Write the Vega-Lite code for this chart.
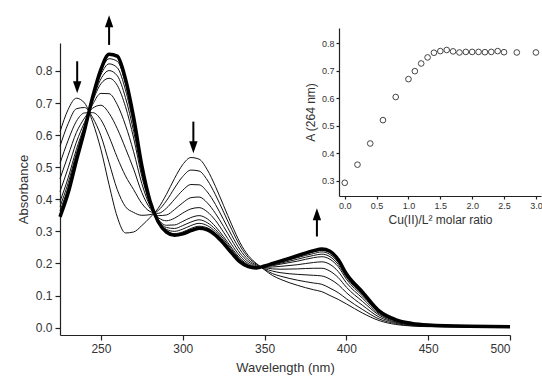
{
"$schema": "https://vega.github.io/schema/vega-lite/v6.json",
"autosize": {"type": "none"},
"width": 481, "height": 307,
"padding": {"left": 60, "top": 28, "right": 1, "bottom": 46},
"background": "white",
"config": {"view": {"stroke": null}, "font": "Liberation Sans",
 "axis": {"grid": false, "labelOverlap": false, "domainColor": "#222", "tickColor": "#222", "labelColor": "#333", "titleColor": "#333", "labelFont": "Liberation Sans", "titleFont": "Liberation Sans", "titleFontWeight": "normal", "domainWidth": 1.2, "tickWidth": 1.2}},
"datasets": {
"spectra": [
{"c":0,"w":225,"a":0.610},{"c":0,"w":230,"a":0.680},{"c":0,"w":235,"a":0.715},{"c":0,"w":240,"a":0.700},{"c":0,"w":245,"a":0.640},{"c":0,"w":250,"a":0.555},{"c":0,"w":255,"a":0.445},{"c":0,"w":260,"a":0.345},{"c":0,"w":265,"a":0.295},{"c":0,"w":270,"a":0.298},{"c":0,"w":275,"a":0.318},{"c":0,"w":280,"a":0.343},{"c":0,"w":285,"a":0.372},{"c":0,"w":290,"a":0.415},{"c":0,"w":295,"a":0.465},{"c":0,"w":300,"a":0.508},{"c":0,"w":305,"a":0.530},{"c":0,"w":310,"a":0.525},{"c":0,"w":315,"a":0.492},{"c":0,"w":320,"a":0.440},{"c":0,"w":325,"a":0.380},{"c":0,"w":330,"a":0.320},{"c":0,"w":335,"a":0.265},{"c":0,"w":340,"a":0.225},{"c":0,"w":345,"a":0.200},{"c":0,"w":350,"a":0.180},{"c":0,"w":355,"a":0.162},{"c":0,"w":360,"a":0.150},{"c":0,"w":370,"a":0.132},{"c":0,"w":380,"a":0.118},{"c":0,"w":385,"a":0.112},{"c":0,"w":390,"a":0.100},{"c":0,"w":395,"a":0.088},{"c":0,"w":400,"a":0.074},{"c":0,"w":410,"a":0.045},{"c":0,"w":420,"a":0.022},{"c":0,"w":430,"a":0.010},{"c":0,"w":440,"a":0.005},{"c":0,"w":450,"a":0.003},{"c":0,"w":475,"a":0.002},{"c":0,"w":500,"a":0.002},
{"c":1,"w":225,"a":0.565},{"c":1,"w":230,"a":0.636},{"c":1,"w":235,"a":0.682},{"c":1,"w":240,"a":0.686},{"c":1,"w":245,"a":0.654},{"c":1,"w":250,"a":0.598},{"c":1,"w":255,"a":0.514},{"c":1,"w":260,"a":0.430},{"c":1,"w":265,"a":0.377},{"c":1,"w":270,"a":0.359},{"c":1,"w":275,"a":0.350},{"c":1,"w":280,"a":0.352},{"c":1,"w":285,"a":0.365},{"c":1,"w":290,"a":0.395},{"c":1,"w":295,"a":0.435},{"c":1,"w":300,"a":0.471},{"c":1,"w":305,"a":0.491},{"c":1,"w":310,"a":0.488},{"c":1,"w":315,"a":0.460},{"c":1,"w":320,"a":0.414},{"c":1,"w":325,"a":0.360},{"c":1,"w":330,"a":0.305},{"c":1,"w":335,"a":0.255},{"c":1,"w":340,"a":0.219},{"c":1,"w":345,"a":0.198},{"c":1,"w":350,"a":0.182},{"c":1,"w":355,"a":0.168},{"c":1,"w":360,"a":0.160},{"c":1,"w":370,"a":0.148},{"c":1,"w":380,"a":0.139},{"c":1,"w":385,"a":0.135},{"c":1,"w":390,"a":0.123},{"c":1,"w":395,"a":0.109},{"c":1,"w":400,"a":0.090},{"c":1,"w":410,"a":0.056},{"c":1,"w":420,"a":0.027},{"c":1,"w":430,"a":0.013},{"c":1,"w":440,"a":0.006},{"c":1,"w":450,"a":0.004},{"c":1,"w":475,"a":0.002},{"c":1,"w":500,"a":0.002},
{"c":2,"w":225,"a":0.512},{"c":2,"w":230,"a":0.584},{"c":2,"w":235,"a":0.643},{"c":2,"w":240,"a":0.669},{"c":2,"w":245,"a":0.670},{"c":2,"w":250,"a":0.648},{"c":2,"w":255,"a":0.595},{"c":2,"w":260,"a":0.530},{"c":2,"w":265,"a":0.473},{"c":2,"w":270,"a":0.430},{"c":2,"w":275,"a":0.387},{"c":2,"w":280,"a":0.362},{"c":2,"w":285,"a":0.356},{"c":2,"w":290,"a":0.372},{"c":2,"w":295,"a":0.400},{"c":2,"w":300,"a":0.428},{"c":2,"w":305,"a":0.446},{"c":2,"w":310,"a":0.445},{"c":2,"w":315,"a":0.423},{"c":2,"w":320,"a":0.384},{"c":2,"w":325,"a":0.336},{"c":2,"w":330,"a":0.287},{"c":2,"w":335,"a":0.243},{"c":2,"w":340,"a":0.212},{"c":2,"w":345,"a":0.195},{"c":2,"w":350,"a":0.184},{"c":2,"w":355,"a":0.176},{"c":2,"w":360,"a":0.171},{"c":2,"w":370,"a":0.166},{"c":2,"w":380,"a":0.163},{"c":2,"w":385,"a":0.161},{"c":2,"w":390,"a":0.151},{"c":2,"w":395,"a":0.134},{"c":2,"w":400,"a":0.109},{"c":2,"w":410,"a":0.069},{"c":2,"w":420,"a":0.033},{"c":2,"w":430,"a":0.016},{"c":2,"w":440,"a":0.008},{"c":2,"w":450,"a":0.005},{"c":2,"w":475,"a":0.003},{"c":2,"w":500,"a":0.002},
{"c":3,"w":225,"a":0.464},{"c":3,"w":230,"a":0.537},{"c":3,"w":235,"a":0.608},{"c":3,"w":240,"a":0.653},{"c":3,"w":245,"a":0.684},{"c":3,"w":250,"a":0.693},{"c":3,"w":255,"a":0.668},{"c":3,"w":260,"a":0.620},{"c":3,"w":265,"a":0.559},{"c":3,"w":270,"a":0.494},{"c":3,"w":275,"a":0.421},{"c":3,"w":280,"a":0.372},{"c":3,"w":285,"a":0.349},{"c":3,"w":290,"a":0.351},{"c":3,"w":295,"a":0.368},{"c":3,"w":300,"a":0.389},{"c":3,"w":305,"a":0.405},{"c":3,"w":310,"a":0.407},{"c":3,"w":315,"a":0.389},{"c":3,"w":320,"a":0.356},{"c":3,"w":325,"a":0.315},{"c":3,"w":330,"a":0.272},{"c":3,"w":335,"a":0.232},{"c":3,"w":340,"a":0.206},{"c":3,"w":345,"a":0.192},{"c":3,"w":350,"a":0.187},{"c":3,"w":355,"a":0.183},{"c":3,"w":360,"a":0.182},{"c":3,"w":370,"a":0.183},{"c":3,"w":380,"a":0.185},{"c":3,"w":385,"a":0.185},{"c":3,"w":390,"a":0.176},{"c":3,"w":395,"a":0.156},{"c":3,"w":400,"a":0.126},{"c":3,"w":410,"a":0.081},{"c":3,"w":420,"a":0.039},{"c":3,"w":430,"a":0.018},{"c":3,"w":440,"a":0.009},{"c":3,"w":450,"a":0.006},{"c":3,"w":475,"a":0.003},{"c":3,"w":500,"a":0.003},
{"c":4,"w":225,"a":0.424},{"c":4,"w":230,"a":0.498},{"c":4,"w":235,"a":0.578},{"c":4,"w":240,"a":0.640},{"c":4,"w":245,"a":0.696},{"c":4,"w":250,"a":0.730},{"c":4,"w":255,"a":0.729},{"c":4,"w":260,"a":0.695},{"c":4,"w":265,"a":0.631},{"c":4,"w":270,"a":0.548},{"c":4,"w":275,"a":0.449},{"c":4,"w":280,"a":0.379},{"c":4,"w":285,"a":0.343},{"c":4,"w":290,"a":0.333},{"c":4,"w":295,"a":0.341},{"c":4,"w":300,"a":0.357},{"c":4,"w":305,"a":0.370},{"c":4,"w":310,"a":0.374},{"c":4,"w":315,"a":0.361},{"c":4,"w":320,"a":0.334},{"c":4,"w":325,"a":0.297},{"c":4,"w":330,"a":0.258},{"c":4,"w":335,"a":0.223},{"c":4,"w":340,"a":0.200},{"c":4,"w":345,"a":0.190},{"c":4,"w":350,"a":0.188},{"c":4,"w":355,"a":0.189},{"c":4,"w":360,"a":0.191},{"c":4,"w":370,"a":0.196},{"c":4,"w":380,"a":0.203},{"c":4,"w":385,"a":0.205},{"c":4,"w":390,"a":0.197},{"c":4,"w":395,"a":0.175},{"c":4,"w":400,"a":0.140},{"c":4,"w":410,"a":0.091},{"c":4,"w":420,"a":0.043},{"c":4,"w":430,"a":0.021},{"c":4,"w":440,"a":0.011},{"c":4,"w":450,"a":0.006},{"c":4,"w":475,"a":0.003},{"c":4,"w":500,"a":0.003},
{"c":5,"w":225,"a":0.393},{"c":5,"w":230,"a":0.467},{"c":5,"w":235,"a":0.555},{"c":5,"w":240,"a":0.630},{"c":5,"w":245,"a":0.706},{"c":5,"w":250,"a":0.760},{"c":5,"w":255,"a":0.777},{"c":5,"w":260,"a":0.755},{"c":5,"w":265,"a":0.689},{"c":5,"w":270,"a":0.591},{"c":5,"w":275,"a":0.471},{"c":5,"w":280,"a":0.386},{"c":5,"w":285,"a":0.338},{"c":5,"w":290,"a":0.319},{"c":5,"w":295,"a":0.320},{"c":5,"w":300,"a":0.331},{"c":5,"w":305,"a":0.343},{"c":5,"w":310,"a":0.349},{"c":5,"w":315,"a":0.339},{"c":5,"w":320,"a":0.315},{"c":5,"w":325,"a":0.283},{"c":5,"w":330,"a":0.248},{"c":5,"w":335,"a":0.216},{"c":5,"w":340,"a":0.196},{"c":5,"w":345,"a":0.189},{"c":5,"w":350,"a":0.190},{"c":5,"w":355,"a":0.193},{"c":5,"w":360,"a":0.198},{"c":5,"w":370,"a":0.207},{"c":5,"w":380,"a":0.218},{"c":5,"w":385,"a":0.221},{"c":5,"w":390,"a":0.213},{"c":5,"w":395,"a":0.190},{"c":5,"w":400,"a":0.151},{"c":5,"w":410,"a":0.098},{"c":5,"w":420,"a":0.047},{"c":5,"w":430,"a":0.022},{"c":5,"w":440,"a":0.012},{"c":5,"w":450,"a":0.007},{"c":5,"w":475,"a":0.004},{"c":5,"w":500,"a":0.003},
{"c":6,"w":225,"a":0.377},{"c":6,"w":230,"a":0.451},{"c":6,"w":235,"a":0.543},{"c":6,"w":240,"a":0.625},{"c":6,"w":245,"a":0.710},{"c":6,"w":250,"a":0.775},{"c":6,"w":255,"a":0.801},{"c":6,"w":260,"a":0.785},{"c":6,"w":265,"a":0.717},{"c":6,"w":270,"a":0.612},{"c":6,"w":275,"a":0.483},{"c":6,"w":280,"a":0.389},{"c":6,"w":285,"a":0.335},{"c":6,"w":290,"a":0.312},{"c":6,"w":295,"a":0.309},{"c":6,"w":300,"a":0.318},{"c":6,"w":305,"a":0.329},{"c":6,"w":310,"a":0.336},{"c":6,"w":315,"a":0.327},{"c":6,"w":320,"a":0.306},{"c":6,"w":325,"a":0.276},{"c":6,"w":330,"a":0.243},{"c":6,"w":335,"a":0.212},{"c":6,"w":340,"a":0.194},{"c":6,"w":345,"a":0.188},{"c":6,"w":350,"a":0.191},{"c":6,"w":355,"a":0.195},{"c":6,"w":360,"a":0.201},{"c":6,"w":370,"a":0.213},{"c":6,"w":380,"a":0.225},{"c":6,"w":385,"a":0.229},{"c":6,"w":390,"a":0.221},{"c":6,"w":395,"a":0.197},{"c":6,"w":400,"a":0.157},{"c":6,"w":410,"a":0.102},{"c":6,"w":420,"a":0.048},{"c":6,"w":430,"a":0.023},{"c":6,"w":440,"a":0.012},{"c":6,"w":450,"a":0.007},{"c":6,"w":475,"a":0.004},{"c":6,"w":500,"a":0.003},
{"c":7,"w":225,"a":0.364},{"c":7,"w":230,"a":0.438},{"c":7,"w":235,"a":0.534},{"c":7,"w":240,"a":0.621},{"c":7,"w":245,"a":0.714},{"c":7,"w":250,"a":0.788},{"c":7,"w":255,"a":0.822},{"c":7,"w":260,"a":0.810},{"c":7,"w":265,"a":0.741},{"c":7,"w":270,"a":0.630},{"c":7,"w":275,"a":0.492},{"c":7,"w":280,"a":0.391},{"c":7,"w":285,"a":0.333},{"c":7,"w":290,"a":0.306},{"c":7,"w":295,"a":0.300},{"c":7,"w":300,"a":0.307},{"c":7,"w":305,"a":0.318},{"c":7,"w":310,"a":0.325},{"c":7,"w":315,"a":0.318},{"c":7,"w":320,"a":0.299},{"c":7,"w":325,"a":0.270},{"c":7,"w":330,"a":0.238},{"c":7,"w":335,"a":0.209},{"c":7,"w":340,"a":0.192},{"c":7,"w":345,"a":0.187},{"c":7,"w":350,"a":0.191},{"c":7,"w":355,"a":0.197},{"c":7,"w":360,"a":0.204},{"c":7,"w":370,"a":0.218},{"c":7,"w":380,"a":0.231},{"c":7,"w":385,"a":0.236},{"c":7,"w":390,"a":0.228},{"c":7,"w":395,"a":0.203},{"c":7,"w":400,"a":0.161},{"c":7,"w":410,"a":0.105},{"c":7,"w":420,"a":0.050},{"c":7,"w":430,"a":0.024},{"c":7,"w":440,"a":0.012},{"c":7,"w":450,"a":0.008},{"c":7,"w":475,"a":0.004},{"c":7,"w":500,"a":0.003},
{"c":8,"w":225,"a":0.353},{"c":8,"w":230,"a":0.428},{"c":8,"w":235,"a":0.526},{"c":8,"w":240,"a":0.618},{"c":8,"w":245,"a":0.718},{"c":8,"w":250,"a":0.798},{"c":8,"w":255,"a":0.838},{"c":8,"w":260,"a":0.830},{"c":8,"w":265,"a":0.761},{"c":8,"w":270,"a":0.644},{"c":8,"w":275,"a":0.499},{"c":8,"w":280,"a":0.393},{"c":8,"w":285,"a":0.331},{"c":8,"w":290,"a":0.302},{"c":8,"w":295,"a":0.293},{"c":8,"w":300,"a":0.298},{"c":8,"w":305,"a":0.309},{"c":8,"w":310,"a":0.316},{"c":8,"w":315,"a":0.311},{"c":8,"w":320,"a":0.293},{"c":8,"w":325,"a":0.266},{"c":8,"w":330,"a":0.235},{"c":8,"w":335,"a":0.207},{"c":8,"w":340,"a":0.191},{"c":8,"w":345,"a":0.186},{"c":8,"w":350,"a":0.192},{"c":8,"w":355,"a":0.199},{"c":8,"w":360,"a":0.206},{"c":8,"w":370,"a":0.221},{"c":8,"w":380,"a":0.236},{"c":8,"w":385,"a":0.241},{"c":8,"w":390,"a":0.234},{"c":8,"w":395,"a":0.208},{"c":8,"w":400,"a":0.165},{"c":8,"w":410,"a":0.108},{"c":8,"w":420,"a":0.051},{"c":8,"w":430,"a":0.025},{"c":8,"w":440,"a":0.013},{"c":8,"w":450,"a":0.008},{"c":8,"w":475,"a":0.004},{"c":8,"w":500,"a":0.003},
{"c":9,"w":225,"a":0.345},{"c":9,"w":230,"a":0.420},{"c":9,"w":235,"a":0.520},{"c":9,"w":240,"a":0.615},{"c":9,"w":245,"a":0.720},{"c":9,"w":250,"a":0.805},{"c":9,"w":255,"a":0.852},{"c":9,"w":260,"a":0.846},{"c":9,"w":265,"a":0.775},{"c":9,"w":270,"a":0.655},{"c":9,"w":275,"a":0.505},{"c":9,"w":280,"a":0.395},{"c":9,"w":285,"a":0.330},{"c":9,"w":290,"a":0.298},{"c":9,"w":295,"a":0.288},{"c":9,"w":300,"a":0.292},{"c":9,"w":305,"a":0.302},{"c":9,"w":310,"a":0.310},{"c":9,"w":315,"a":0.305},{"c":9,"w":320,"a":0.288},{"c":9,"w":325,"a":0.262},{"c":9,"w":330,"a":0.232},{"c":9,"w":335,"a":0.205},{"c":9,"w":340,"a":0.190},{"c":9,"w":345,"a":0.186},{"c":9,"w":350,"a":0.192},{"c":9,"w":355,"a":0.200},{"c":9,"w":360,"a":0.208},{"c":9,"w":370,"a":0.224},{"c":9,"w":380,"a":0.240},{"c":9,"w":385,"a":0.245},{"c":9,"w":390,"a":0.238},{"c":9,"w":395,"a":0.212},{"c":9,"w":400,"a":0.168},{"c":9,"w":410,"a":0.110},{"c":9,"w":420,"a":0.052},{"c":9,"w":430,"a":0.025},{"c":9,"w":440,"a":0.013},{"c":9,"w":450,"a":0.008},{"c":9,"w":475,"a":0.004},{"c":9,"w":500,"a":0.003}
],
"arrows": [
{"w":235.5,"b":0.830,"h":0.749,"s":"down"},
{"w":255,"b":0.881,"h":0.955,"s":"up"},
{"w":306.5,"b":0.642,"h":0.562,"s":"down"},
{"w":382,"b":0.284,"h":0.353,"s":"up"}
],
"inset": [
{"r":0.0,"A":0.293},{"r":0.2,"A":0.359},{"r":0.4,"A":0.436},{"r":0.6,"A":0.521},{"r":0.8,"A":0.605},{"r":1.0,"A":0.670},{"r":1.1,"A":0.699},{"r":1.2,"A":0.727},{"r":1.3,"A":0.749},{"r":1.4,"A":0.766},{"r":1.5,"A":0.772},{"r":1.6,"A":0.776},{"r":1.7,"A":0.771},{"r":1.8,"A":0.767},{"r":1.9,"A":0.769},{"r":2.0,"A":0.769},{"r":2.1,"A":0.769},{"r":2.2,"A":0.768},{"r":2.3,"A":0.769},{"r":2.4,"A":0.772},{"r":2.5,"A":0.768},{"r":2.7,"A":0.767},{"r":3.0,"A":0.767}
]
},
"layer": [
{
 "layer": [
  {"data": {"name": "spectra"}, "transform": [{"filter": "datum.c < 9"}],
   "mark": {"type": "line", "interpolate": "monotone", "stroke": "#111", "strokeWidth": 1},
   "encoding": {
    "x": {"field": "w", "type": "quantitative", "scale": {"domain": [225, 500], "range": [0, 450], "nice": false, "zero": false},
          "axis": {"orient": "bottom", "values": [250, 300, 350, 400, 450, 500], "title": "Wavelength (nm)", "labelFontSize": 12, "titleFontSize": 13, "tickSize": 5, "labelPadding": 3, "titlePadding": 7}},
    "y": {"field": "a", "type": "quantitative", "scale": {"domain": [-0.023, 0.887], "range": [307, 15], "nice": false, "zero": false},
          "axis": {"orient": "left", "values": [0, 0.1, 0.2, 0.3, 0.4, 0.5, 0.6, 0.7, 0.8], "format": ".1f", "labelOverlap": false, "title": "Absorbance", "labelFontSize": 12, "titleFontSize": 13, "tickSize": 5, "labelPadding": 3, "titlePadding": 5}},
    "detail": {"field": "c", "type": "nominal"}}},
  {"data": {"name": "spectra"}, "transform": [{"filter": "datum.c == 9"}],
   "mark": {"type": "line", "interpolate": "monotone", "stroke": "#000", "strokeWidth": 3.5},
   "encoding": {
    "x": {"field": "w", "type": "quantitative", "axis": {"orient": "bottom", "values": [250, 300, 350, 400, 450, 500], "title": "Wavelength (nm)", "labelFontSize": 12, "titleFontSize": 13, "tickSize": 5, "labelPadding": 3, "titlePadding": 7}},
    "y": {"field": "a", "type": "quantitative", "axis": {"orient": "left", "values": [0, 0.1, 0.2, 0.3, 0.4, 0.5, 0.6, 0.7, 0.8], "format": ".1f", "labelOverlap": false, "title": "Absorbance", "labelFontSize": 12, "titleFontSize": 13, "tickSize": 5, "labelPadding": 3, "titlePadding": 5}}}},
  {"data": {"name": "arrows"},
   "mark": {"type": "rule", "stroke": "#000", "strokeWidth": 2},
   "encoding": {
    "x": {"field": "w", "type": "quantitative", "axis": {"orient": "bottom", "values": [250, 300, 350, 400, 450, 500], "title": "Wavelength (nm)", "labelFontSize": 12, "titleFontSize": 13, "tickSize": 5, "labelPadding": 3, "titlePadding": 7}},
    "y": {"field": "b", "type": "quantitative", "axis": {"orient": "left", "values": [0, 0.1, 0.2, 0.3, 0.4, 0.5, 0.6, 0.7, 0.8], "format": ".1f", "labelOverlap": false, "title": "Absorbance", "labelFontSize": 12, "titleFontSize": 13, "tickSize": 5, "labelPadding": 3, "titlePadding": 5}},
    "y2": {"field": "h"}}},
  {"data": {"name": "arrows"},
   "mark": {"type": "point", "filled": true, "fill": "#000", "stroke": null, "opacity": 1, "size": 144},
   "encoding": {
    "x": {"field": "w", "type": "quantitative", "axis": {"orient": "bottom", "values": [250, 300, 350, 400, 450, 500], "title": "Wavelength (nm)", "labelFontSize": 12, "titleFontSize": 13, "tickSize": 5, "labelPadding": 3, "titlePadding": 7}},
    "y": {"field": "h", "type": "quantitative", "axis": {"orient": "left", "values": [0, 0.1, 0.2, 0.3, 0.4, 0.5, 0.6, 0.7, 0.8], "format": ".1f", "labelOverlap": false, "title": "Absorbance", "labelFontSize": 12, "titleFontSize": 13, "tickSize": 5, "labelPadding": 3, "titlePadding": 5}},
    "shape": {"field": "s", "type": "nominal", "scale": {"domain": ["down", "up"], "range": ["M-0.7,-1L0.7,-1L0,1Z", "M-0.7,1L0.7,1L0,-1Z"]}, "legend": null}}}
 ]
},
{
 "data": {"name": "inset"},
 "mark": {"type": "point", "shape": "circle", "filled": false, "stroke": "#444", "strokeWidth": 1, "size": 32, "opacity": 1},
 "encoding": {
  "x": {"field": "r", "type": "quantitative", "scale": {"domain": [-0.09, 3.08], "range": [279, 481], "nice": false, "zero": false},
        "axis": {"orient": "bottom", "offset": -139, "values": [0, 0.5, 1, 1.5, 2, 2.5, 3], "format": ".1f", "title": "Cu(II)/L² molar ratio", "labelFontSize": 9, "titleFontSize": 12, "tickSize": 3, "labelPadding": 2, "titlePadding": 4}},
  "y": {"field": "A", "type": "quantitative", "scale": {"domain": [0.245, 0.856], "range": [168, 0], "nice": false, "zero": false},
        "axis": {"orient": "left", "offset": -279, "values": [0.3, 0.4, 0.5, 0.6, 0.7, 0.8], "format": ".1f", "title": "A (264 nm)", "labelFontSize": 9, "titleFontSize": 12, "tickSize": 3, "labelPadding": 2, "titlePadding": 4}}}
}
],
"resolve": {"scale": {"x": "independent", "y": "independent"}, "axis": {"x": "independent", "y": "independent"}}
}
